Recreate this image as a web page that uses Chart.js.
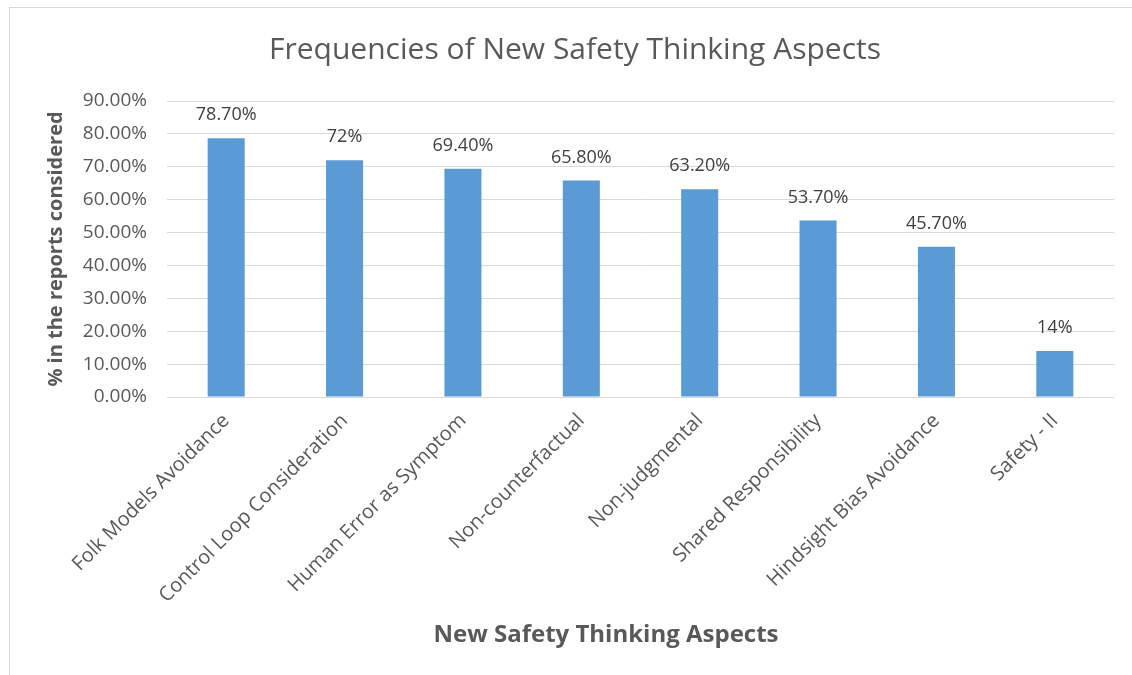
<!DOCTYPE html>
<html>
<head>
<meta charset="utf-8">
<script src="https://cdn.jsdelivr.net/npm/chart.js@4"></script>
<style>
  body { margin: 0; background: #fff; overflow: hidden; }
  #wrap { position: relative; width: 1132px; height: 675px; }
  #frame { position: absolute; left: 9px; top: 7px; width: 1200px; height: 800px; border: 1px solid #d9d9d9; }
  #myChart { position: absolute; left: 0; top: 0; }
</style>
</head>
<body>
<div id="wrap">
  <div id="frame"></div>
  <canvas id="myChart" width="1132" height="675"></canvas>
</div>
<script>
var categories = ['Folk Models Avoidance', 'Control Loop Consideration', 'Human Error as Symptom',
  'Non-counterfactual', 'Non-judgmental', 'Shared Responsibility', 'Hindsight Bias Avoidance', 'Safety - II']
var values = [78.7, 72, 69.4, 65.8, 63.2, 53.7, 45.7, 14]
var valueLabels = ['78.70%', '72%', '69.40%', '65.80%', '63.20%', '53.70%', '45.70%', '14%']
var chartTitle = 'Frequencies of New Safety Thinking Aspects'
var xTitle = 'New Safety Thinking Aspects'

var fontName = "'Open Sans', sans-serif"
var grey = '#595959'

// value text above each bar, plus the chart title and x axis title
// (both sit a little off the plot centre in the original, so drawn by hand)
var barLabels = {
  id: 'barLabels',
  afterDatasetsDraw: function(chart) {
    var ctx = chart.ctx
    var meta = chart.getDatasetMeta(0)
    ctx.save()
    ctx.font = '18px ' + fontName
    ctx.fillStyle = '#404040'
    ctx.textAlign = 'center'
    ctx.textBaseline = 'middle'
    meta.data.forEach(function(bar, i) {
      ctx.fillText(valueLabels[i], bar.x, bar.y - 23)
    })
    ctx.fillStyle = grey
    ctx.font = '30px ' + fontName
    ctx.fillText(chartTitle, 575, 50)
    ctx.font = 'bold 24px ' + fontName
    ctx.fillText(xTitle, 606, 635)
    ctx.restore()
  }
}

var myChart = new Chart(document.getElementById('myChart'), {
  type: 'bar',
  data: {
    labels: categories,
    datasets: [{
      label: 'Frequency',
      data: values,
      backgroundColor: '#5B9BD5',
      borderWidth: 0,
      categoryPercentage: 0.313,
      barPercentage: 1
    }]
  },
  options: {
    responsive: false,
    animation: false,
    layout: { padding: { left: 0, right: 18, top: 101, bottom: 20 } },
    plugins: {
      legend: { display: false },
      tooltip: { enabled: false }
    },
    scales: {
      x: {
        grid: { display: false },
        border: { display: false },
        ticks: {
          color: grey,
          font: { family: fontName, size: 20 },
          autoSkip: false,
          maxRotation: 45,
          minRotation: 45,
          padding: 4
        },
        afterFit: function(scale) { scale.height = 675 - 397 - 20 }
      },
      y: {
        min: 0,
        max: 90,
        grid: { color: '#d9d9d9', lineWidth: 1, drawTicks: false },
        border: { display: false },
        ticks: {
          stepSize: 10,
          color: grey,
          font: { family: fontName, size: 19 },
          padding: 20,
          callback: function(v) { return v.toFixed(2) + '%' }
        },
        title: {
          display: true,
          text: '% in the reports considered',
          color: grey,
          font: { family: fontName, size: 20, weight: 'bold' },
          padding: { top: 44, bottom: 0 }
        },
        afterFit: function(scale) { scale.width = 167 }
      }
    }
  },
  plugins: [barLabels]
})
</script>
</body>
</html>
